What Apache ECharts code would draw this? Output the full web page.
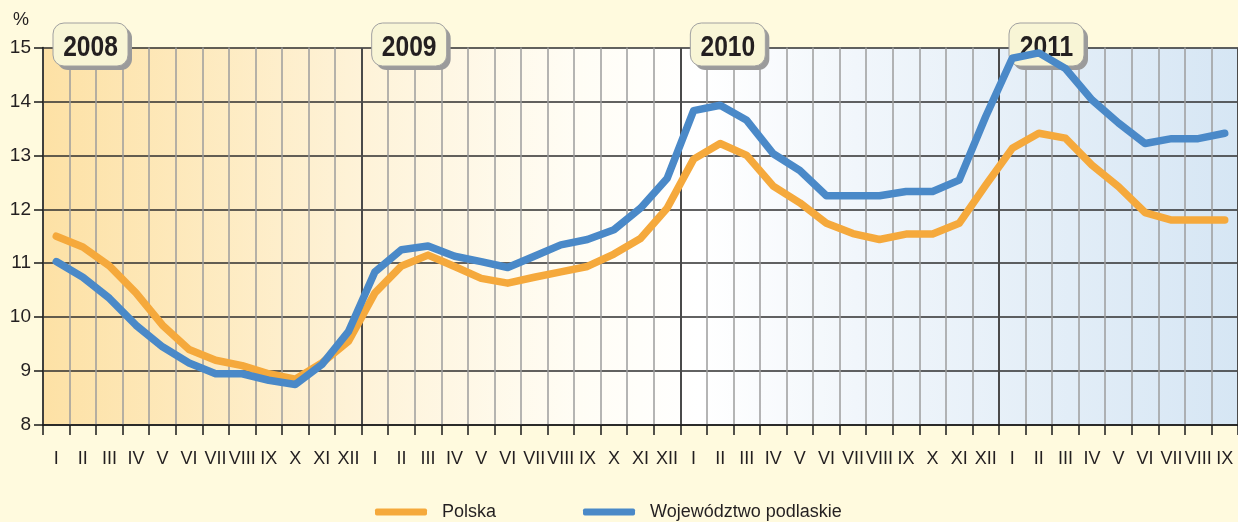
<!DOCTYPE html>
<html>
<head>
<meta charset="utf-8">
<script src="https://cdn.jsdelivr.net/npm/echarts@6/dist/echarts.min.js"></script>
<style>
  html, body { margin: 0; padding: 0; background: #fffade; }
  #chart { width: 1238px; height: 522px; }
</style>
</head>
<body>
<div id="chart"></div>
<script>
    // dane: stopa bezrobocia, %
    const years = ['2008', '2009', '2010', '2011'];
    const monthLabels = ['I', 'II', 'III', 'IV', 'V', 'VI', 'VII', 'VIII', 'IX', 'X', 'XI', 'XII'];
    const monthsIn2011 = 9;

    const polska = [
        11.5, 11.3, 10.95, 10.45, 9.85, 9.4, 9.2, 9.1, 8.95, 8.85, 9.15, 9.55,
        10.45, 10.95, 11.15, 10.94, 10.72, 10.63, 10.74, 10.84, 10.94, 11.17, 11.46, 12.02,
        12.93, 13.22, 13.0, 12.43, 12.12, 11.74, 11.55, 11.44, 11.54, 11.54, 11.74, 12.45,
        13.13, 13.41, 13.32, 12.82, 12.42, 11.94, 11.8, 11.8, 11.8
    ];
    const podlaskie = [
        11.03, 10.74, 10.35, 9.85, 9.45, 9.15, 8.95, 8.95, 8.83, 8.75, 9.12, 9.73,
        10.84, 11.25, 11.32, 11.13, 11.03, 10.92, 11.13, 11.34, 11.44, 11.62, 12.02, 12.57,
        13.83, 13.93, 13.65, 13.03, 12.72, 12.25, 12.25, 12.25, 12.33, 12.33, 12.54, 13.72,
        14.8, 14.9, 14.61, 14.03, 13.6, 13.22, 13.31, 13.31, 13.41
    ];

    const categories = [];
    years.forEach((y, yi) => {
        const n = yi === years.length - 1 ? monthsIn2011 : 12;
        for (let m = 0; m < n; m++) {
            categories.push(y + '-' + monthLabels[m]);
        }
    });

    const font = '"Liberation Sans", Arial, sans-serif';
    const chart = echarts.init(document.getElementById('chart'));

    const option = {
        backgroundColor: '#fffade',
        animation: false,
        grid: {
            left: 43,
            top: 47.5,
            width: 1196,
            height: 377.5,
            show: true,
            borderWidth: 0,
            backgroundColor: new echarts.graphic.LinearGradient(0, 0, 1, 0, [
                {offset: 0, color: '#fde1a5'},
                {offset: 0.27, color: '#fef3d9'},
                {offset: 0.45, color: '#fffdf5'},
                {offset: 0.55, color: '#ffffff'},
                {offset: 0.68, color: '#f1f6fb'},
                {offset: 1, color: '#d6e6f4'}
            ])
        },
        legend: {
            left: 370,
            top: 498,
            icon: 'roundRect',
            itemWidth: 52,
            itemHeight: 7,
            itemGap: 87,
            textStyle: {
                fontFamily: font,
                fontSize: 18,
                color: '#231f20',
                padding: [0, 0, 0, 10]
            },
            data: ['Polska', 'Województwo podlaskie']
        },
        xAxis: [
            {
                type: 'category',
                data: categories,
                boundaryGap: true,
                axisLine: {lineStyle: {color: '#1a1a1a', width: 1.5}},
                axisTick: {show: true, length: 10, inside: false, interval: 0, lineStyle: {color: '#1a1a1a', width: 1.5}},
                axisLabel: {
                    interval: 0,
                    margin: 25,
                    fontFamily: font,
                    fontSize: 18,
                    color: '#231f20',
                    formatter: v => v.split('-')[1]
                },
                splitLine: {show: true, interval: 0, lineStyle: {color: '#9c9c9c', width: 1.5}}
            },
            {
                // linie podziału lat
                type: 'category',
                data: categories,
                position: 'bottom',
                axisLine: {show: false},
                axisTick: {show: false},
                axisLabel: {show: false},
                splitLine: {
                    show: true,
                    interval: idx => idx % 12 === 0 && idx > 0,
                    lineStyle: {color: '#4a4a4a', width: 2}
                }
            }
        ],
        yAxis: {
            type: 'value',
            min: 8,
            max: 15,
            interval: 1,
            name: '%',
            nameLocation: 'end',
            nameGap: 18,
            nameTextStyle: {fontFamily: font, fontSize: 18, color: '#231f20', align: 'right', padding: [0, 14, 0, 0]},
            axisLine: {show: true, lineStyle: {color: '#1a1a1a', width: 1.5}},
            axisTick: {show: true, length: 9, lineStyle: {color: '#1a1a1a', width: 1.5}},
            axisLabel: {fontFamily: font, fontSize: 19, color: '#231f20', margin: 12},
            splitLine: {show: true, lineStyle: {color: '#2e2e2e', width: 1.5}}
        },
        series: [
            {
                name: 'Polska',
                type: 'line',
                data: polska,
                symbol: 'none',
                z: 3,
                itemStyle: {color: '#f5a93c'},
                lineStyle: {color: '#f5a93c', width: 7.5, cap: 'round', join: 'round'}
            },
            {
                name: 'Województwo podlaskie',
                type: 'line',
                data: podlaskie,
                symbol: 'none',
                z: 4,
                itemStyle: {color: '#4a89c8'},
                lineStyle: {color: '#4a89c8', width: 7.5, cap: 'round', join: 'round'}
            }
        ]
    };
    chart.setOption(option);

    // ramki z latami nad liniami podziału (pod seriami)
    const c0 = chart.convertToPixel({xAxisIndex: 0}, 0);
    const c1 = chart.convertToPixel({xAxisIndex: 0}, 1);
    const band = c1 - c0;
    const boxes = [];
    years.forEach((y, yi) => {
        const divX = chart.convertToPixel({xAxisIndex: 0}, yi * 12) - band / 2;
        boxes.push({
            type: 'group',
            x: divX + 10,
            y: 23,
            children: [
                {
                    type: 'rect',
                    z: 1,
                    z2: 0,
                    shape: {x: 4, y: 4, width: 75, height: 43, r: 11},
                    style: {fill: '#9b9b9b'}
                },
                {
                    type: 'rect',
                    z: 1,
                    z2: 1,
                    shape: {x: 0, y: 0, width: 75, height: 43, r: 11},
                    style: {fill: '#f8f5d6', stroke: '#a0a0a0', lineWidth: 1}
                },
                {
                    type: 'text',
                    z: 1,
                    z2: 2,
                    x: 37.5,
                    y: 25,
                    scaleX: 0.82,
                    style: {
                        text: y,
                        font: 'bold 30px ' + font,
                        fill: '#231f20',
                        align: 'center',
                        verticalAlign: 'middle'
                    }
                }
            ]
        });
    });
    chart.setOption({graphic: boxes});
</script>
</body>
</html>
